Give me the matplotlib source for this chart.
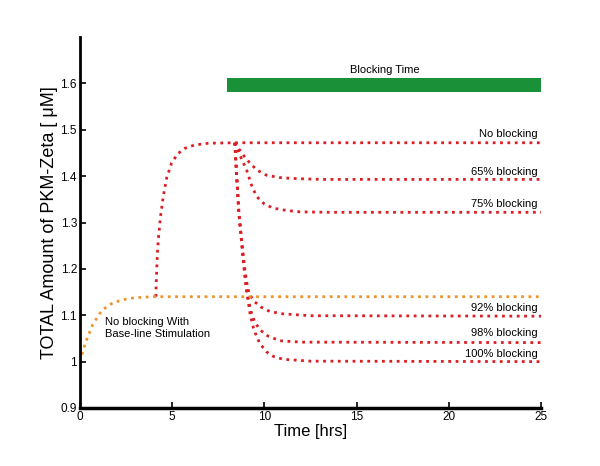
import matplotlib
matplotlib.use("Agg")
import matplotlib.pyplot as plt
from matplotlib import rcParams

rcParams["font.family"] = ["Liberation Sans Narrow", "Liberation Sans", "DejaVu Sans"]

# values (time in hrs, amount in uM)
baseT = [0, 0.3, 0.7, 1.2, 1.8, 2.4, 3.0, 4.0, 6.0, 10.0, 25.0]
baseY = [1.0, 1.04, 1.08, 1.111, 1.127, 1.134, 1.138, 1.14, 1.14, 1.14, 1.14]

riseT = [4.12, 4.15, 4.2, 4.25, 4.38, 4.52, 4.7, 4.97, 5.3, 5.69, 6.2, 6.96, 8.4, 25.0]
riseY = [1.14, 1.18, 1.23, 1.262, 1.315, 1.356, 1.395, 1.428, 1.448, 1.46, 1.467, 1.471, 1.472, 1.472]

b65T = [8.4, 8.8, 9.22, 9.6, 10.12, 10.8, 11.57, 13.0, 25.0]
b65Y = [1.472, 1.448, 1.428, 1.413, 1.402, 1.397, 1.395, 1.393, 1.393]

b75T = [8.4, 8.7, 9.04, 9.3, 9.58, 10.0, 10.48, 11.2, 11.93, 13.5, 25.0]
b75Y = [1.472, 1.443, 1.413, 1.381, 1.356, 1.34, 1.331, 1.326, 1.323, 1.322, 1.322]

b92T = [8.4, 8.5, 8.62, 8.76, 8.9, 9.04, 9.18, 9.45, 9.8, 10.3, 11.02, 12.5, 25.0]
b92Y = [1.472, 1.40, 1.32, 1.265, 1.212, 1.172, 1.146, 1.13, 1.118, 1.108, 1.103, 1.099, 1.098]

b98T = [8.4, 8.5, 8.62, 8.76, 8.9, 9.04, 9.25, 9.48, 9.78, 10.2, 10.85, 12.0, 25.0]
b98Y = [1.472, 1.40, 1.32, 1.262, 1.205, 1.158, 1.111, 1.085, 1.068, 1.055, 1.045, 1.042, 1.041]

b100T = [8.4, 8.5, 8.62, 8.76, 8.9, 9.04, 9.24, 9.44, 9.74, 10.12, 10.5, 11.02, 12.5, 25.0]
b100Y = [1.472, 1.40, 1.32, 1.26, 1.2, 1.15, 1.1, 1.068, 1.04, 1.021, 1.011, 1.005, 1.001, 1.0]

blockStart, blockEnd = 8.0, 25.0
blockLow, blockHigh = 1.582, 1.611

endLabels = ["No blocking", "65% blocking", "75% blocking",
             "92% blocking", "98% blocking", "100% blocking"]
endLabelY = [1.491, 1.409, 1.34, 1.116, 1.062, 1.016]

xTicks = [0, 5, 10, 15, 20, 25]
yTicks = [0.9, 1.0, 1.1, 1.2, 1.3, 1.4, 1.5, 1.6]

red = "#dc1e24"
orange = "#f0942a"
green = "#1a9138"

fig = plt.figure(figsize=(6, 4.66), dpi=100)
ax = fig.add_axes([0.133, 0.1245, 0.769, 0.796])

ax.fill_between([blockStart, blockEnd], blockLow, blockHigh, color=green, lw=0)
ax.text((blockStart + blockEnd) / 2, 1.629, "Blocking Time",
        ha="center", va="center", fontsize=8)

for t, y in [(riseT, riseY), (b65T, b65Y), (b75T, b75Y),
             (b92T, b92Y), (b98T, b98Y), (b100T, b100Y)]:
    ax.plot(t, y, ls=":", lw=2, color=red)
ax.plot(baseT, baseY, ls=":", lw=2, color=orange)

for lab, y in zip(endLabels, endLabelY):
    ax.text(24.8, y, lab, ha="right", va="center", fontsize=8)

ax.text(1.36, 1.097, "No blocking With\nBase-line Stimulation",
        ha="left", va="top", fontsize=8, linespacing=1.3)

ax.set_xlim(0, 25)
ax.set_ylim(0.9, 1.7)
ax.set_xticks(xTicks)
ax.set_xticklabels([str(x) for x in xTicks])
ax.set_yticks(yTicks)
ax.set_yticklabels(["%g" % y for y in yTicks])
ax.tick_params(direction="in", length=4, width=1.2, labelsize=8.5, pad=2)

for side in ["top", "right"]:
    ax.spines[side].set_visible(False)
ax.spines["left"].set_linewidth(2)
ax.spines["bottom"].set_linewidth(2.5)

ax.set_xlabel("Time [hrs]", fontsize=12, labelpad=1)
ax.set_ylabel("TOTAL Amount of PKM-Zeta [ μM]", fontsize=13,
              family=["Liberation Sans", "DejaVu Sans"])
ax.yaxis.set_label_coords(-0.047, 0.5)

fig.savefig("out.png", dpi=100)
